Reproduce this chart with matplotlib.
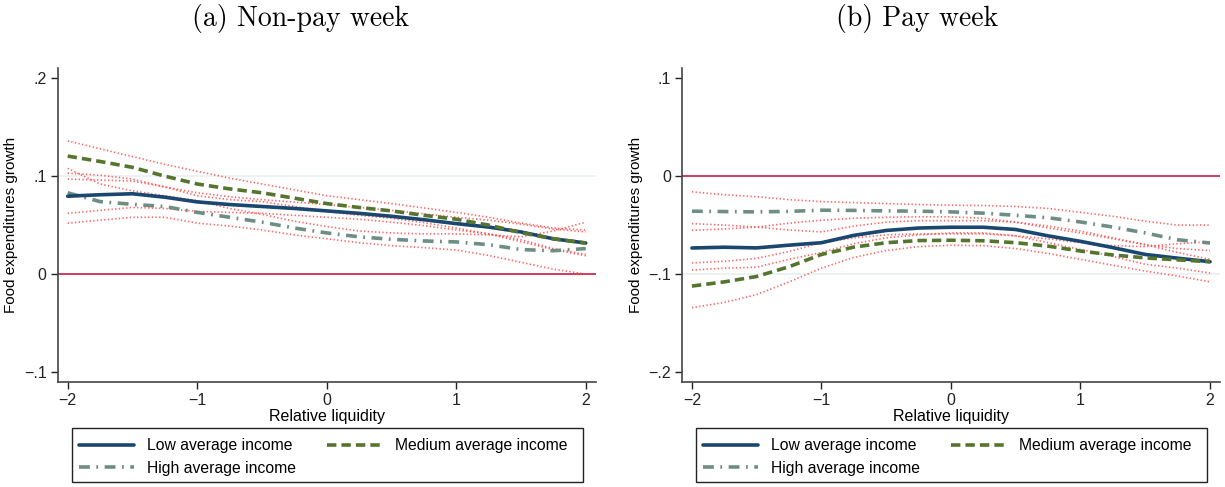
import matplotlib
matplotlib.use("Agg")
import matplotlib.pyplot as plt
from matplotlib.patches import Rectangle

plt.rcParams['font.family'] = ['Liberation Sans', 'DejaVu Sans']

# relative liquidity grid
liquidity = [-2, -1.75, -1.5, -1.25, -1, -0.75, -0.5, -0.25, 0,
             0.25, 0.5, 0.75, 1, 1.25, 1.5, 1.75, 2]

# (a) non-pay week: fitted values and confidence bounds
np_low = [0.0795, 0.081, 0.082, 0.0785, 0.0737, 0.071, 0.069, 0.067, 0.0645,
          0.062, 0.059, 0.0555, 0.0515, 0.048, 0.043, 0.036, 0.0317]
np_low_hi = [0.097, 0.096, 0.095, 0.089, 0.083, 0.079, 0.076, 0.0735, 0.071,
             0.068, 0.065, 0.0615, 0.058, 0.055, 0.051, 0.046, 0.043]
np_low_lo = [0.062, 0.065, 0.068, 0.067, 0.064, 0.063, 0.062, 0.060, 0.058,
             0.056, 0.053, 0.0495, 0.045, 0.041, 0.035, 0.026, 0.020]

np_med = [0.1205, 0.115, 0.109, 0.100, 0.092, 0.087, 0.083, 0.0775, 0.072,
          0.068, 0.0645, 0.060, 0.056, 0.050, 0.0423, 0.036, 0.0317]
np_med_hi = [0.136, 0.128, 0.120, 0.112, 0.105, 0.098, 0.092, 0.086, 0.080,
             0.076, 0.072, 0.0675, 0.063, 0.058, 0.052, 0.047, 0.045]
np_med_lo = [0.103, 0.101, 0.097, 0.089, 0.080, 0.076, 0.074, 0.069, 0.064,
             0.060, 0.057, 0.0525, 0.047, 0.041, 0.033, 0.025, 0.0187]

np_high = [0.083, 0.074, 0.0712, 0.069, 0.063, 0.058, 0.053, 0.047, 0.042,
           0.038, 0.0355, 0.0338, 0.0328, 0.030, 0.025, 0.0238, 0.026]
np_high_hi = [0.108, 0.092, 0.085, 0.080, 0.075, 0.067, 0.061, 0.054, 0.0485,
              0.044, 0.042, 0.041, 0.041, 0.040, 0.038, 0.044, 0.053]
np_high_lo = [0.052, 0.055, 0.058, 0.058, 0.052, 0.049, 0.045, 0.040, 0.036,
              0.032, 0.029, 0.027, 0.0245, 0.019, 0.012, 0.005, 0.0]

# (b) pay week
p_low = [-0.0734, -0.0726, -0.0733, -0.0705, -0.068, -0.0605, -0.0555, -0.053, -0.0522,
         -0.0522, -0.0545, -0.061, -0.0666, -0.073, -0.080, -0.0838, -0.0874]
p_low_hi = [-0.0485, -0.050, -0.052, -0.055, -0.057, -0.051, -0.047, -0.0455, -0.0455,
            -0.0455, -0.047, -0.053, -0.058, -0.064, -0.070, -0.074, -0.076]
p_low_lo = [-0.096, -0.094, -0.093, -0.085, -0.078, -0.069, -0.063, -0.060, -0.058,
            -0.058, -0.061, -0.068, -0.075, -0.082, -0.090, -0.094, -0.099]

p_med = [-0.1123, -0.108, -0.1025, -0.0925, -0.080, -0.0725, -0.068, -0.0658, -0.0655,
         -0.066, -0.068, -0.0715, -0.0765, -0.0805, -0.0835, -0.0855, -0.0874]
p_med_hi = [-0.0887, -0.087, -0.084, -0.077, -0.068, -0.063, -0.060, -0.059, -0.059,
            -0.059, -0.061, -0.064, -0.068, -0.071, -0.072, -0.069, -0.067]
p_med_lo = [-0.1344, -0.129, -0.121, -0.108, -0.094, -0.083, -0.076, -0.072, -0.0706,
            -0.071, -0.074, -0.079, -0.085, -0.091, -0.097, -0.102, -0.108]

p_high = [-0.0358, -0.0362, -0.0365, -0.036, -0.0348, -0.035, -0.0355, -0.0358, -0.0365,
          -0.0378, -0.040, -0.0425, -0.0468, -0.052, -0.058, -0.065, -0.0683]
p_high_hi = [-0.016, -0.019, -0.021, -0.024, -0.026, -0.027, -0.028, -0.029, -0.0297,
             -0.030, -0.031, -0.033, -0.037, -0.041, -0.046, -0.050, -0.050]
p_high_lo = [-0.0553, -0.054, -0.052, -0.048, -0.045, -0.043, -0.042, -0.0415, -0.0416,
             -0.043, -0.047, -0.051, -0.056, -0.063, -0.070, -0.078, -0.085]

x_ticks = [-2, -1, 0, 1, 2]
x_tick_labels = ['\u22122', '\u22121', '0', '1', '2']
np_y_ticks = [-0.1, 0, 0.1, 0.2]
np_y_labels = ['\u2212.1', '0', '.1', '.2']
p_y_ticks = [-0.2, -0.1, 0, 0.1]
p_y_labels = ['\u2212.2', '\u2212.1', '0', '.1']

series_names = ['Low average income', 'Medium average income', 'High average income']

NAVY = '#1a476f'
GREEN = '#55752f'
TEAL = '#6e8e84'
CI_RED = '#ff4646'
ZERO_RED = '#d03a5e'


def draw_panel(ax, low, med, high, bounds, yticks, ylabels, ylim, grid_y):
    ax.axhline(grid_y, color='#e8f0f2', lw=1.2, zorder=0)
    ax.axhline(0, color=ZERO_RED, lw=1.4, zorder=1)

    for lo, hi in bounds:
        for b in (lo, hi):
            ax.plot(liquidity, b, color=CI_RED, lw=1.2, alpha=0.85,
                    linestyle=(0, (0.8, 1.4)), zorder=2)

    h_low, = ax.plot(liquidity, low, color=NAVY, lw=2.6, zorder=4,
                     solid_capstyle='round')
    h_med, = ax.plot(liquidity, med, color=GREEN, lw=2.6, zorder=4,
                     dashes=(2.6, 1.4))
    h_high, = ax.plot(liquidity, high, color=TEAL, lw=2.6, zorder=3,
                      dashes=(3.0, 1.8, 0.5, 1.8))

    ax.set_xlim(-2.077, 2.077)
    ax.set_ylim(*ylim)
    ax.set_xticks(x_ticks)
    ax.set_xticklabels(x_tick_labels)
    ax.set_yticks(yticks)
    ax.set_yticklabels(ylabels)
    ax.tick_params(labelsize=11.5, length=5, width=1, colors='#222222', pad=3)
    for s in ('top', 'right'):
        ax.spines[s].set_visible(False)
    for s in ('left', 'bottom'):
        ax.spines[s].set_color('#444444')
        ax.spines[s].set_linewidth(1.2)
    ax.set_xlabel('Relative liquidity', fontsize=11.5, labelpad=1)
    ax.set_ylabel('Food expenditures growth', fontsize=11, labelpad=4)

    # frame drawn separately so the legend keeps its natural column spacing
    ax.add_patch(Rectangle((0.026, -0.320), 0.950, 0.172, transform=ax.transAxes,
                           fill=False, edgecolor='#222222', lw=1.0, clip_on=False))
    # legend rows: Low / Medium on the first, High below
    ax.legend([h_low, h_high, h_med],
              [series_names[0], series_names[2], series_names[1]],
              ncol=2, loc='upper left', bbox_to_anchor=(0.040, -0.181),
              fontsize=11.3, frameon=False, handlelength=3.5,
              handletextpad=0.8, columnspacing=2.0, borderpad=0.0,
              labelspacing=0.45, borderaxespad=0.0)


fig = plt.figure(figsize=(12.25, 4.87), dpi=100)
ax1 = fig.add_axes([0.0471, 0.2162, 0.4392, 0.6442])
ax2 = fig.add_axes([0.5567, 0.2162, 0.4392, 0.6442])

draw_panel(ax1, np_low, np_med, np_high,
           [(np_low_lo, np_low_hi), (np_med_lo, np_med_hi), (np_high_lo, np_high_hi)],
           np_y_ticks, np_y_labels, (-0.11, 0.2105), 0.1)
draw_panel(ax2, p_low, p_med, p_high,
           [(p_low_lo, p_low_hi), (p_med_lo, p_med_hi), (p_high_lo, p_high_hi)],
           p_y_ticks, p_y_labels, (-0.21, 0.1105), -0.1)

fig.text(0.2453, 0.961, '(a) Non-pay week', fontfamily='cmr10', fontsize=20,
         ha='center', va='center')
fig.text(0.749, 0.961, '(b) Pay week', fontfamily='cmr10', fontsize=20,
         ha='center', va='center')

fig.savefig('out.png', dpi=100)
